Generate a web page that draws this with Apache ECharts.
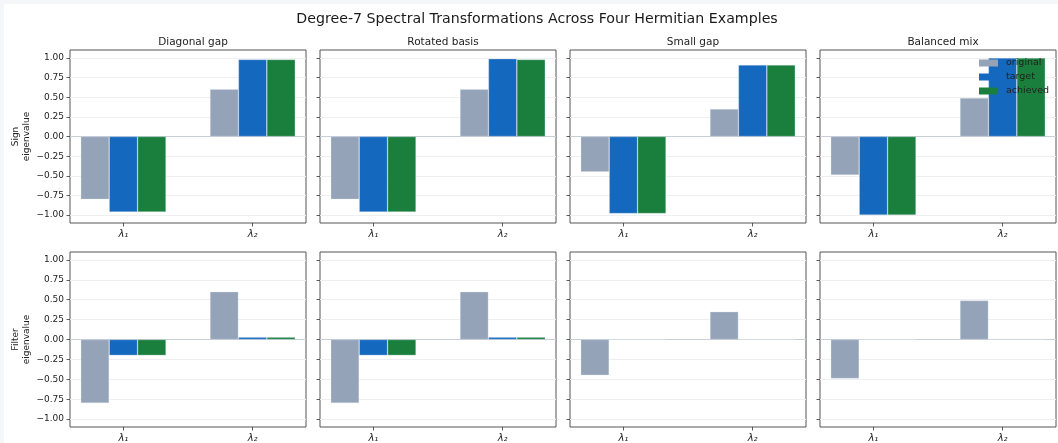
<!DOCTYPE html>
<html>
<head>
<meta charset="utf-8">
<script src="https://cdn.jsdelivr.net/npm/echarts@6/dist/echarts.min.js"></script>
<style>
html,body{margin:0;padding:0;background:#f4f6fa;}
#chart{position:absolute;left:4px;top:4px;width:1054px;height:439px;background:#ffffff;}
</style>
</head>
<body>
<div id="chart"></div>
<script>
const categories = ['λ₁', 'λ₂'];
const panelTitles = ['Diagonal gap', 'Rotated basis', 'Small gap', 'Balanced mix'];
const rowLabels = ['Sign\neigenvalue', 'Filter\neigenvalue'];
const seriesNames = ['original', 'target', 'achieved'];
const seriesColors = ['#94a3b8', '#1469bf', '#1a7f3c'];

const signOriginal = [[-0.80, 0.60], [-0.80, 0.60], [-0.45, 0.35], [-0.49, 0.49]];
const signTarget   = [[-0.96, 0.98], [-0.96, 0.99], [-0.98, 0.91], [-1.00, 1.00]];
const signAchieved = [[-0.96, 0.98], [-0.96, 0.98], [-0.98, 0.91], [-1.00, 1.00]];

const filterOriginal = [[-0.80, 0.60], [-0.80, 0.60], [-0.45, 0.35], [-0.49, 0.49]];
const filterTarget   = [[-0.20, 0.03], [-0.20, 0.03], [0.00, 0.00], [0.00, 0.005]];
const filterAchieved = [[-0.20, 0.03], [-0.20, 0.03], [0.00, 0.00], [0.00, 0.005]];

const yTicks = [-1.0, -0.75, -0.5, -0.25, 0.0, 0.25, 0.5, 0.75, 1.0];
const xTicks = [0, 1];

const FONT = 'DejaVu Sans';
const gridLeft = [66, 316, 566, 816];
const gridW = 236;
const rowTop = [46, 248];
const rowH = [173, 175];
const barW = 0.22;
const xMin = -0.413, xMax = 1.413;
const barPx = gridW / (xMax - xMin) * barW;

const rows = [
  [signOriginal, signTarget, signAchieved],
  [filterOriginal, filterTarget, filterAchieved]
];

const grids = [], xAxes = [], yAxes = [], series = [], titles = [];

titles.push({
  text: 'Degree-7 Spectral Transformations Across Four Hermitian Examples',
  left: 528, top: 3, textAlign: 'center',
  textStyle: {fontFamily: FONT, fontSize: 14.2, fontWeight: 'normal', color: '#1a1a1a'}
});

let gi = 0;
for (let r = 0; r < 2; r++) {
  for (let c = 0; c < 4; c++) {
    grids.push({
      left: gridLeft[c], top: rowTop[r], width: gridW, height: rowH[r],
      show: true, borderColor: '#555555', borderWidth: 1, backgroundColor: 'transparent'
    });
    xAxes.push({
      gridIndex: gi, type: 'value', min: xMin, max: xMax, position: 'bottom',
      axisLine: {show: false, onZero: false},
      splitLine: {show: false},
      axisTick: {show: true, customValues: xTicks, length: 3.5, lineStyle: {color: '#333', width: 0.8}},
      axisLabel: {
        show: true, customValues: xTicks, margin: 6,
        formatter: v => categories[Math.round(v)],
        fontFamily: FONT, fontSize: 10, fontStyle: 'italic', color: '#222'
      }
    });
    yAxes.push({
      gridIndex: gi, type: 'value', min: -1.1, max: 1.1, position: 'left',
      axisLine: {show: false, onZero: false},
      splitLine: {show: false},
      axisTick: {show: true, customValues: yTicks, length: 3.5, lineStyle: {color: '#333', width: 0.8}},
      axisLabel: {
        show: c === 0, customValues: yTicks, margin: 6,
        formatter: v => (v < 0 ? '\u2212' : '') + Math.abs(v).toFixed(2),
        fontFamily: FONT, fontSize: 9, color: '#222'
      },
      name: c === 0 ? rowLabels[r] : '',
      nameLocation: 'middle', nameRotate: 90, nameGap: 38,
      nameTextStyle: {fontFamily: FONT, fontSize: 9, color: '#222', lineHeight: 11}
    });
    // gridlines and zero line (behind bars)
    series.push({
      type: 'line', xAxisIndex: gi, yAxisIndex: gi, data: [], z: 1, silent: true,
      markLine: {
        z: 1, silent: true, symbol: 'none', label: {show: false}, animation: false,
        data: yTicks.filter(t => t !== 0).map(t => ({yAxis: t, lineStyle: {color: '#eeeff2', width: 1, type: 'solid'}}))
          .concat([{yAxis: 0, lineStyle: {color: '#c8cfd9', width: 1.2, type: 'solid'}}])
      }
    });
    for (let s = 0; s < 3; s++) {
      const vals = rows[r][s][c];
      series.push({
        name: seriesNames[s], type: 'bar', xAxisIndex: gi, yAxisIndex: gi, z: 3,
        barWidth: barPx, barGap: '0%',
        itemStyle: {color: seriesColors[s], borderColor: 'rgba(226,232,240,0.5)', borderWidth: 0.6},
        data: vals.map((v, i) => [xTicks[i], v]),
        animation: false
      });
    }
    if (r === 0) {
      titles.push({
        text: panelTitles[c], left: gridLeft[c] + gridW / 2, top: 28, textAlign: 'center',
        textStyle: {fontFamily: FONT, fontSize: 10.5, fontWeight: 'normal', color: '#222'}
      });
    }
    gi++;
  }
}

const chart = echarts.init(document.getElementById('chart'), null, {renderer: 'canvas'});
chart.setOption({
  animation: false,
  backgroundColor: '#ffffff',
  title: titles,
  legend: {
    data: seriesNames, orient: 'vertical', left: 970, top: 49,
    itemWidth: 19, itemHeight: 7, itemGap: 4,
    icon: 'rect',
    itemStyle: {borderWidth: 0},
    textStyle: {fontFamily: FONT, fontSize: 9.5, color: '#222', padding: [0, 0, 0, 3]},
    backgroundColor: 'transparent', selectedMode: false
  },
  grid: grids,
  xAxis: xAxes,
  yAxis: yAxes,
  series: series
});
</script>
</body>
</html>
